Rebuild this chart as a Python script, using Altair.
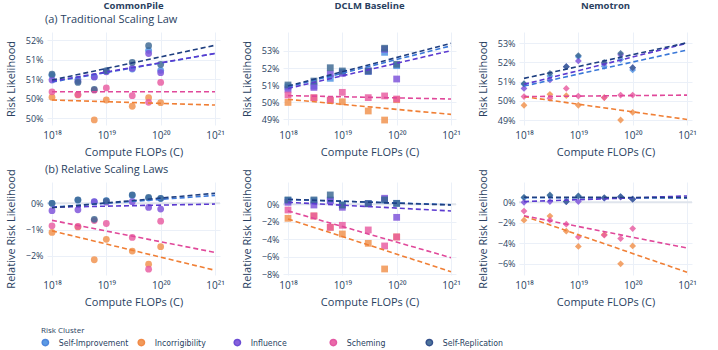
import altair as alt
import pandas as pd

# ---------------- data ----------------
flops = [1e18, 3e18, 6e18, 1e19, 3e19, 6e19, 1e20]
clusters = ["Self-Improvement", "Incorrigibility", "Influence", "Scheming", "Self-Replication"]
colors = ["#4a90e2", "#f0904a", "#7b4fd9", "#e85aa0", "#3b6691"]
line_colors = ["#3a78d8", "#f07f35", "#5b3ad0", "#e0489a", "#1f3f80"]
fit_x = [1e18, 1e21]

# values in %, order of clusters above
cp_trad = {
    "Self-Improvement": [51.10, 51.00, 51.06, 51.20, 51.26, 51.74, 51.23],
    "Incorrigibility":  [50.54, 50.60, 49.96, 50.47, 50.31, 50.53, 50.40],
    "Influence":        [50.98, 50.95, 51.06, 51.19, 51.28, 51.66, 51.17],
    "Scheming":         [50.68, 50.61, 50.72, 50.78, 50.58, 50.41, 50.92],
    "Self-Replication": [51.13, 50.92, 50.74, 51.22, 51.43, 51.86, 51.38],
}
cp_trad_fit = {
    "Self-Improvement": [50.93, 51.66], "Incorrigibility": [50.47, 50.34],
    "Influence": [50.95, 51.66], "Scheming": [50.68, 50.68], "Self-Replication": [50.98, 51.87],
}
dclm_trad = {
    "Self-Improvement": [50.90, 50.95, 51.40, 51.75, 51.80, 52.92, 52.14],
    "Incorrigibility":  [49.99, 50.25, 50.10, 50.03, 49.49, 48.96, 50.15],
    "Influence":        [50.76, 50.87, 51.65, 51.69, 51.83, 53.10, 51.36],
    "Scheming":         [50.42, 50.27, 50.13, 50.58, 50.27, 50.37, 50.19],
    "Self-Replication": [51.01, 51.24, 52.02, 51.83, 51.83, 53.16, 52.22],
}
dclm_trad_fit = {
    "Self-Improvement": [50.90, 53.30], "Incorrigibility": [50.17, 49.29],
    "Influence": [50.81, 53.02], "Scheming": [50.39, 50.19], "Self-Replication": [50.95, 53.45],
}
nemo_trad = {
    "Self-Improvement": [50.86, 51.30, 51.78, 52.30, 51.80, 52.15, 51.61],
    "Incorrigibility":  [49.77, 50.34, 50.27, 49.77, 50.17, 49.00, 49.40],
    "Influence":        [50.65, 51.09, 51.78, 52.08, 51.95, 52.40, 51.73],
    "Scheming":         [50.22, 50.13, 50.65, 50.25, 50.17, 50.30, 50.30],
    "Self-Replication": [50.90, 51.43, 51.78, 52.36, 52.01, 52.48, 51.73],
}
nemo_trad_fit = {
    "Self-Improvement": [50.77, 52.65], "Incorrigibility": [50.22, 49.03],
    "Influence": [50.86, 53.00], "Scheming": [50.22, 50.30], "Self-Replication": [51.17, 53.03],
}
cp_rel = {
    "Self-Improvement": [0.00, 0.12, 0.05, 0.10, 0.30, 0.20, 0.18],
    "Incorrigibility":  [-1.11, -0.90, -2.15, -1.37, -1.82, -2.32, -1.65],
    "Influence":        [-0.28, -0.25, 0.06, 0.04, 0.06, -0.16, -0.22],
    "Scheming":         [-0.86, -0.88, -0.66, -0.77, -1.30, -2.51, -0.68],
    "Self-Replication": [0.00, 0.13, -0.61, 0.09, 0.32, 0.22, 0.19],
}
cp_rel_fit = {
    "Self-Improvement": [-0.15, 0.30], "Incorrigibility": [-1.05, -2.55],
    "Influence": [-0.15, -0.03], "Scheming": [-0.65, -1.87], "Self-Replication": [-0.17, 0.38],
}
dclm_rel = {
    "Self-Improvement": [0.45, 0.40, 0.50, -0.08, 0.08, 0.50, 0.11],
    "Incorrigibility":  [-1.60, -1.33, -2.63, -3.39, -4.46, -7.39, -3.73],
    "Influence":        [0.23, -0.08, 0.42, -0.34, 0.05, 0.69, -1.49],
    "Scheming":         [-0.65, -1.33, -2.63, -2.40, -2.93, -4.76, -3.73],
    "Self-Replication": [0.50, 0.50, 1.07, -0.08, 0.08, 0.50, 0.11],
}
dclm_rel_fit = {
    "Self-Improvement": [0.55, -0.05], "Incorrigibility": [-1.68, -7.70],
    "Influence": [0.23, -0.76], "Scheming": [-0.76, -6.10], "Self-Replication": [0.57, -0.08],
}
nemo_rel = {
    "Self-Improvement": [0.45, 0.65, 0.07, 0.60, 0.40, 0.55, 0.30],
    "Incorrigibility":  [-1.74, -1.34, -2.82, -4.30, -3.15, -6.00, -4.26],
    "Influence":        [0.00, 0.07, 0.07, 0.07, 0.40, 0.50, 0.30],
    "Scheming":         [-0.85, -1.74, -2.13, -3.38, -3.21, -3.54, -2.56],
    "Self-Replication": [0.49, 0.72, 0.07, 0.62, 0.46, 0.56, 0.30],
}
nemo_rel_fit = {
    "Self-Improvement": [0.45, 0.42], "Incorrigibility": [-1.34, -6.82],
    "Influence": [0.07, 0.62], "Scheming": [-1.31, -4.46], "Self-Replication": [0.49, 0.46],
}

# ---------------- helpers ----------------
FONT = "Open Sans"
LEG_FONT = "DejaVu Sans Condensed, Open Sans, sans-serif"
TXT = "#2a3f5f"
GRID = "#ebf0f8"
W, H = 173, 93

XLAB = ("datum.value > 5e20 ? '10\u00b2\u00b9' : datum.value > 5e19 ? '10\u00b2\u2070' : "
        "datum.value > 5e18 ? '10\u00b9\u2079' : '10\u00b9\u2078'")

LEGEND = alt.Legend(
    title="Risk Cluster", orient="none", legendX=-6, legendY=295,
    direction="horizontal", columns=5, gridAlign="all", columnPadding=6,
    symbolType="circle", symbolSize=40, symbolOpacity=0.9,
    labelFont=LEG_FONT, labelFontSize=8.7, labelColor=TXT, labelOffset=9,
    titleFont=FONT, titleFontSize=8, titleFontWeight="normal", titleColor=TXT, titlePadding=3,
)


def to_df(d, xs):
    rows = []
    for c in clusters:
        for xv, yv in zip(xs, d[c]):
            rows.append({"flops": xv, "cluster": c, "value": yv / 100.0})
    return pd.DataFrame(rows)


def panel(pts, fit, shape, dom, ticks, ytitle, label_expr=None, col_title=None,
          row_title=None, zero=False):
    xsc = alt.Scale(type="log", domain=[10 ** 17.908, 10 ** 21.092], nice=False)
    xax = alt.Axis(values=[1e18, 1e19, 1e20, 1e21], labelExpr=XLAB, title="Compute FLOPs (C)",
                   grid=True, gridColor=GRID, domain=False, ticks=False, labelFontSize=10,
                   labelPadding=5, titleFontSize=11, titleFontWeight="normal",
                   titleY=27, titleBaseline="middle", labelFlush=False)
    yargs = dict(values=ticks, title=ytitle, grid=True, gridColor=GRID, domain=False,
                 ticks=False, labelFontSize=9, labelPadding=4, titleFontSize=11,
                 titleFontWeight="normal", titleX=-35.5, titleY=H / 2,
                 titleAlign="center", titleBaseline="middle", titleAngle=270)
    if label_expr:
        yargs["labelExpr"] = label_expr
    else:
        yargs["format"] = ".0%"
    yax = alt.Axis(**yargs)
    ysc = alt.Scale(domain=dom, nice=False, zero=False)

    pdf = to_df(pts, flops)
    fdf = to_df(fit, fit_x)

    layers = []
    if zero:
        layers.append(alt.Chart(pd.DataFrame({"z": [0.0]})).mark_rule(
            color="#dfe4ec", strokeWidth=2).encode(y=alt.Y("z:Q", scale=ysc, axis=yax)))
    pts_l = alt.Chart(pdf).mark_point(shape=shape, filled=True, size=46, opacity=0.82).encode(
        x=alt.X("flops:Q", scale=xsc, axis=xax),
        y=alt.Y("value:Q", scale=ysc, axis=yax),
        color=alt.Color("cluster:N", scale=alt.Scale(domain=clusters, range=colors),
                        legend=LEGEND),
    )
    fit_l = alt.Chart(fdf).mark_line(strokeDash=[5, 3], strokeWidth=1.6).encode(
        x=alt.X("flops:Q", scale=xsc, axis=xax),
        y=alt.Y("value:Q", scale=ysc, axis=yax),
        stroke=alt.Stroke("cluster:N", scale=alt.Scale(domain=clusters, range=line_colors),
                          legend=None),
        detail="cluster:N",
    )
    layers += [pts_l, fit_l]
    if col_title:
        layers.append(alt.Chart(pd.DataFrame({"t": [col_title]})).mark_text(
            font=FONT, fontSize=9.5, fontWeight="bold", color=TXT, align="center",
            baseline="middle").encode(text="t:N", x=alt.value(W / 2), y=alt.value(-26)))
    if row_title:
        layers.append(alt.Chart(pd.DataFrame({"t": [row_title]})).mark_text(
            font=FONT, fontSize=11, color=TXT, align="left",
            baseline="middle").encode(text="t:N", x=alt.value(-2), y=alt.value(-12.5)))
    return alt.layer(*layers).properties(width=W, height=H)


LBL_CP = "floor(datum.value*100+1e-6) + '%'"

p1 = panel(cp_trad, cp_trad_fit, "circle", [0.4983, 0.5221],
           [0.50, 0.505, 0.51, 0.515, 0.52], "Risk Likelihood", label_expr=LBL_CP,
           col_title="CommonPile", row_title="(a) Traditional Scaling Law")
p2 = panel(dclm_trad, dclm_trad_fit, "square", [0.4867, 0.5411],
           [0.49, 0.50, 0.51, 0.52, 0.53], "Risk Likelihood", col_title="DCLM Baseline")
p3 = panel(nemo_trad, nemo_trad_fit, "diamond", [0.4874, 0.5359],
           [0.49, 0.50, 0.51, 0.52, 0.53], "Risk Likelihood", col_title="Nemotron")
p4 = panel(cp_rel, cp_rel_fit, "circle", [-0.0273, 0.0081], [-0.02, -0.01, 0.0],
           "Relative Risk Likelihood", row_title="(b) Relative Scaling Laws", zero=True)
p5 = panel(dclm_rel, dclm_rel_fit, "square", [-0.0808, 0.0255],
           [-0.08, -0.06, -0.04, -0.02, 0.0], "Relative Risk Likelihood", zero=True)
p6 = panel(nemo_rel, nemo_rel_fit, "diamond", [-0.0709, 0.0198],
           [-0.06, -0.04, -0.02, 0.0], "Relative Risk Likelihood", zero=True)

chart = alt.concat(p1, p2, p3, p4, p5, p6, columns=3,
                   spacing={"row": 57, "column": 63}, bounds="flush").properties(
    padding={"left": 5, "top": 1, "right": 0, "bottom": 0}
).configure(font=FONT).configure_view(stroke=None).configure_axis(
    labelColor=TXT, titleColor=TXT, labelFont=FONT, titleFont=FONT
)

chart.save("out.html", embed_options={"renderer": "svg", "actions": False})
